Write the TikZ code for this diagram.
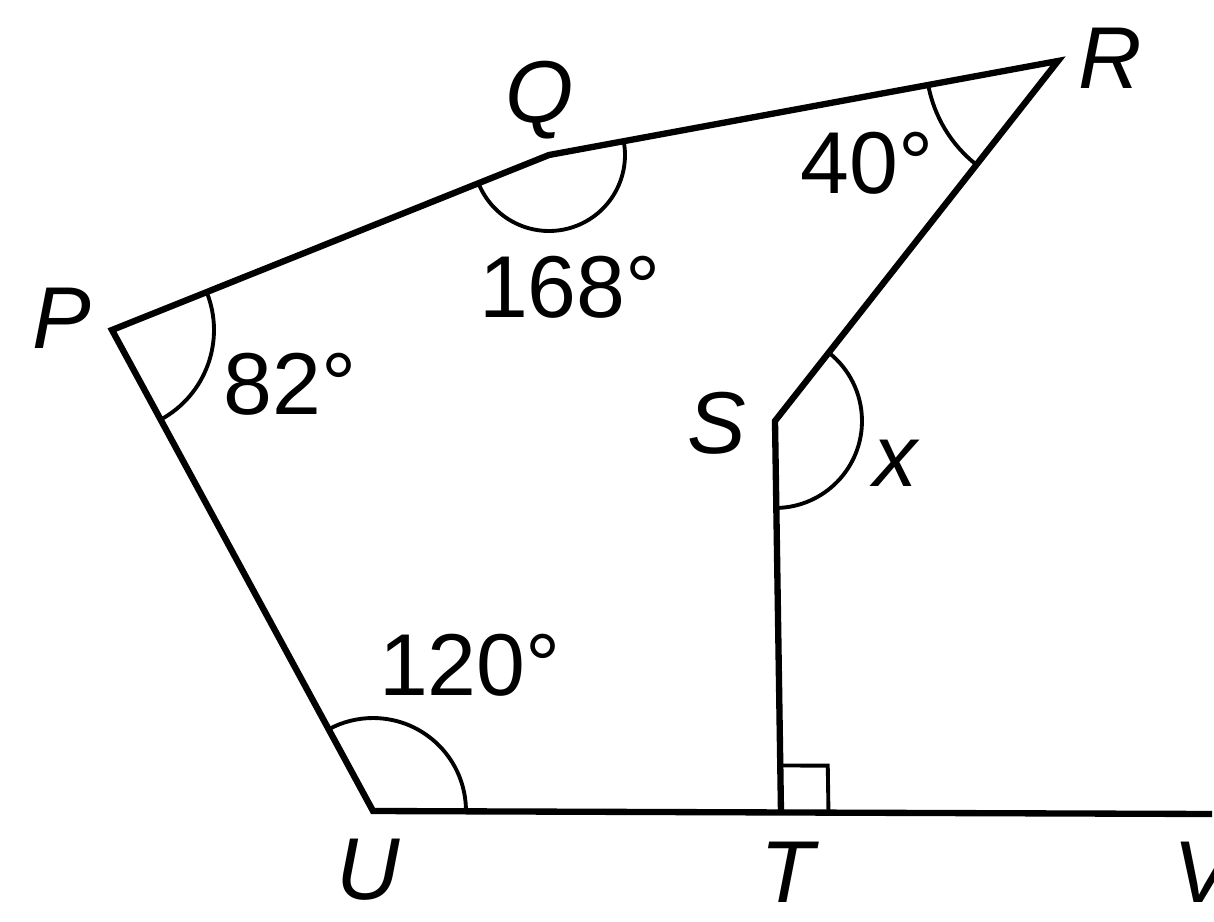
\documentclass[tikz,border=0pt]{standalone}
\usepackage{fontspec}
\setmainfont{Liberation Sans}
\usetikzlibrary{angles}

\begin{document}
\begin{tikzpicture}[x=0.02cm,y=-0.02cm,
  font=\fontsize{50}{60}\selectfont,
  side/.style={line width=3.6pt,line join=miter},
  arcmark/.style={draw,line width=2.2pt},
  lbl/.style={inner sep=0pt}]

\path[use as bounding box,fill=white] (0,0) rectangle (1214,922);

\coordinate (P) at (112,330);
\coordinate (Q) at (549,155);
\coordinate (R) at (1058,61);
\coordinate (S) at (775,421);
\coordinate (T) at (781,813);
\coordinate (U) at (373,811);
\coordinate (Vend) at (1212,814);

\draw[side] (Vend) -- (U) -- (P) -- (Q) -- (R) -- (S) -- (T);

\pic[arcmark,angle radius=2.04cm] {angle=U--P--Q};
\pic[arcmark,angle radius=1.52cm] {angle=P--Q--R};
\pic[arcmark,angle radius=2.64cm] {angle=Q--R--S};
\pic[arcmark,angle radius=1.74cm] {angle=T--S--R};
\pic[arcmark,angle radius=1.86cm] {angle=T--U--P};
\pic[arcmark,line join=miter,angle radius=0.95cm] {right angle=Vend--T--S};

\node[lbl] (lP) at (62,318) {\textit{P}};
\node[lbl] (lQ) at (540,100) {\textit{Q}};
\node[lbl] (lR) at (1110,58) {\textit{R}};
\node[lbl] (lS) at (717,423) {\textit{S}};
\node[lbl] (lT) at (790,872) {\textit{T}};
\node[lbl] (lU) at (368,870) {\textit{U}};
\node[lbl] (lV) at (1206,872) {\textit{V}};
\node[lbl] (lx) at (897,463) {\textit{x}};

\node[lbl] (a40) at (867,163) {40°};
\node[lbl] (a168) at (570,287) {168°};
\node[lbl] (a82) at (290,384) {82°};
\node[lbl] (a120) at (470,665) {120°};
\end{tikzpicture}
\end{document}
